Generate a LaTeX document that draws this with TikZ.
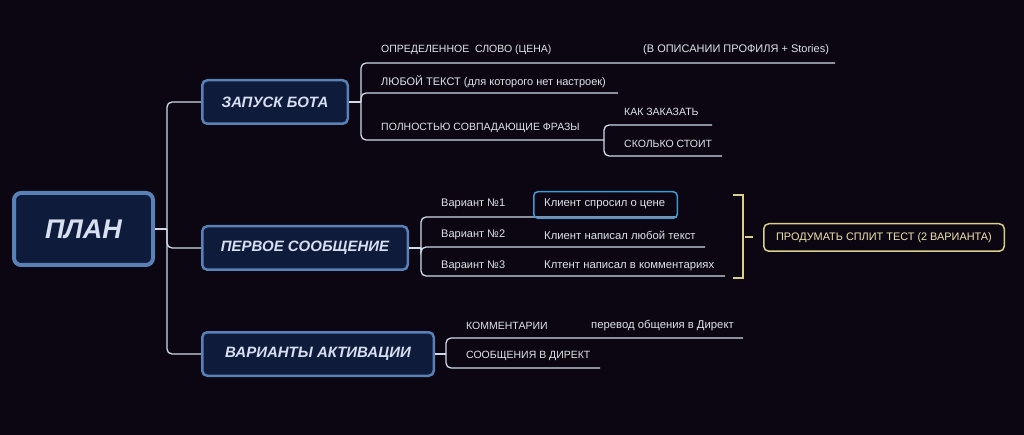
\documentclass[tikz,border=0pt]{standalone}
\usepackage{fontspec}
\setmainfont{Liberation Sans}
\definecolor{bg}{HTML}{0B0611}
\definecolor{boxfill}{HTML}{0F1B3A}
\definecolor{boxline}{HTML}{5A80B8}
\definecolor{titletext}{HTML}{D6E0F0}
\definecolor{wirec}{HTML}{D2D9E8}
\definecolor{smalltext}{HTML}{E0E3EA}
\definecolor{selblue}{HTML}{3F9BD8}
\definecolor{gold}{HTML}{D9CF8C}
\definecolor{goldtext}{HTML}{EEE6B0}
\begin{document}
\begin{tikzpicture}[x=1pt,y=-1pt,
  mainbox/.style={draw=boxline, line width=2.5pt, fill=boxfill, rounded corners=5pt,
    text=titletext, font=\bfseries\itshape\fontsize{15}{18}\selectfont, inner sep=0pt,
    minimum height=43.5pt},
  wire/.style={draw=wirec, line width=1.3pt, rounded corners=5pt},
  lbl/.style={text=smalltext, font=\fontsize{10.5}{12}\selectfont, anchor=west, inner sep=0pt},
  lblmix/.style={lbl, font=\fontsize{11}{12}\selectfont},
  lbllow/.style={lbl, font=\fontsize{11.3}{12}\selectfont},
]
\fill[bg] (0,0) rectangle (1024,435);
\useasboundingbox (0,0) rectangle (1024,435);

% main nodes
\node[mainbox, line width=4pt, rounded corners=7pt, minimum width=139pt, minimum height=72pt,
  font=\bfseries\itshape\fontsize{27}{30}\selectfont] (plan) at (83.5,229) {ПЛАН};
\node[mainbox, minimum width=145.5pt] (zapusk) at (275,102) {ЗАПУСК БОТА};
\node[mainbox, minimum width=205.5pt] (pervoe) at (305,248) {ПЕРВОЕ СООБЩЕНИЕ};
\node[mainbox, minimum width=231.5pt] (aktiv) at (318,354) {ВАРИАНТЫ АКТИВАЦИИ};

% trunk
\coordinate (trunk) at (167,0);
\draw[wire] (zapusk.west) -- (zapusk.west -| trunk) -- (aktiv.west -| trunk) -- (aktiv.west);
\draw[wire] (plan.east) -- (plan.east -| trunk);
\draw[wire] (plan.east -| trunk) |- (pervoe.west);

% ЗАПУСК БОТА children
\coordinate (zj) at (361,102);
\coordinate (opr-end) at (835,63);
\coordinate (lyub-end) at (618,93);
\coordinate (poln-end) at (604,140);
\draw[wire] (zapusk.east) -- (zj);
\draw[wire] (zj) |- (opr-end);
\draw[wire] (zj) |- (lyub-end);
\draw[wire] (zj) |- (poln-end);
\node[lbl] (opr) at (381,50) {ОПРЕДЕЛЕННОЕ\ \ СЛОВО (ЦЕНА)};
\node[lblmix] (opr2) at (643,50) {(В ОПИСАНИИ ПРОФИЛЯ + Stories)};
\node[lblmix] (lyub) at (381,82) {ЛЮБОЙ ТЕКСТ (для которого нет настроек)};
\node[lbl] (poln) at (381,128) {ПОЛНОСТЬЮ СОВПАДАЮЩИЕ ФРАЗЫ};
\coordinate (kak-end) at (712,125);
\coordinate (skol-end) at (722,156);
\draw[wire] (poln-end) |- (kak-end);
\draw[wire] (poln-end) |- (skol-end);
\node[lbl] (kak) at (624,112) {КАК ЗАКАЗАТЬ};
\node[lbl] (skol) at (624,144) {СКОЛЬКО СТОИТ};

% ПЕРВОЕ СООБЩЕНИЕ children
\coordinate (pj) at (421,248);
\coordinate (v1-end) at (677,217);
\coordinate (v2-end) at (705,247);
\coordinate (v3-end) at (725,276);
\draw[wire] (pervoe.east) -- (pj);
\draw[wire] (pj) |- (v1-end);
\draw[wire] (pj) |- (v2-end);
\draw[wire] (pj) |- (v3-end);
\node[lblmix] (v1) at (441,204) {Вариант №1};
\node[lblmix] (v2) at (441,235) {Вариант №2};
\node[lblmix] (v3) at (441,266) {Вараинт №3};
\node[lbllow] (k1) at (544,204) {Клиент спросил о цене};
\node[lbllow] (k2) at (544,235) {Клиент написал любой текст};
\node[lbllow] (k3) at (544,266) {Клтент написал в комментариях};
\node[draw=selblue, line width=1.5pt, rounded corners=4pt, minimum width=143.5pt,
  minimum height=26.5pt, inner sep=0pt] (sel) at (605.5,205) {};

% yellow bracket and box
\coordinate (yb1) at (733,195);
\coordinate (yb2) at (743,195);
\coordinate (yb3) at (743,278);
\coordinate (yb4) at (733,278);
\coordinate (yt1) at (745,237);
\coordinate (yt2) at (753,237);
\draw[gold, line width=1.5pt] (yb1) -- (yb2) -- (yb3) -- (yb4);
\draw[gold, line width=1.5pt] (yt1) -- (yt2);
\node[draw=gold, line width=1.5pt, rounded corners=5pt, minimum width=240.5pt,
  minimum height=27.5pt, inner sep=0pt, text=goldtext,
  font=\fontsize{10.9}{12}\selectfont] (split) at (884,237.5) {ПРОДУМАТЬ СПЛИТ ТЕСТ (2 ВАРИАНТА)};

% ВАРИАНТЫ АКТИВАЦИИ children
\coordinate (aj) at (446,354);
\coordinate (kom-end) at (743,338);
\coordinate (soob-end) at (600,368);
\draw[wire] (aktiv.east) -- (aj);
\draw[wire] (aj) |- (kom-end);
\draw[wire] (aj) |- (soob-end);
\node[lbl] (kom) at (466,326) {КОММЕНТАРИИ};
\node[lbllow] (kom2) at (591,326) {перевод общения в Директ};
\node[lbl] (soob) at (466,356) {СООБЩЕНИЯ В ДИРЕКТ};
\end{tikzpicture}
\end{document}
